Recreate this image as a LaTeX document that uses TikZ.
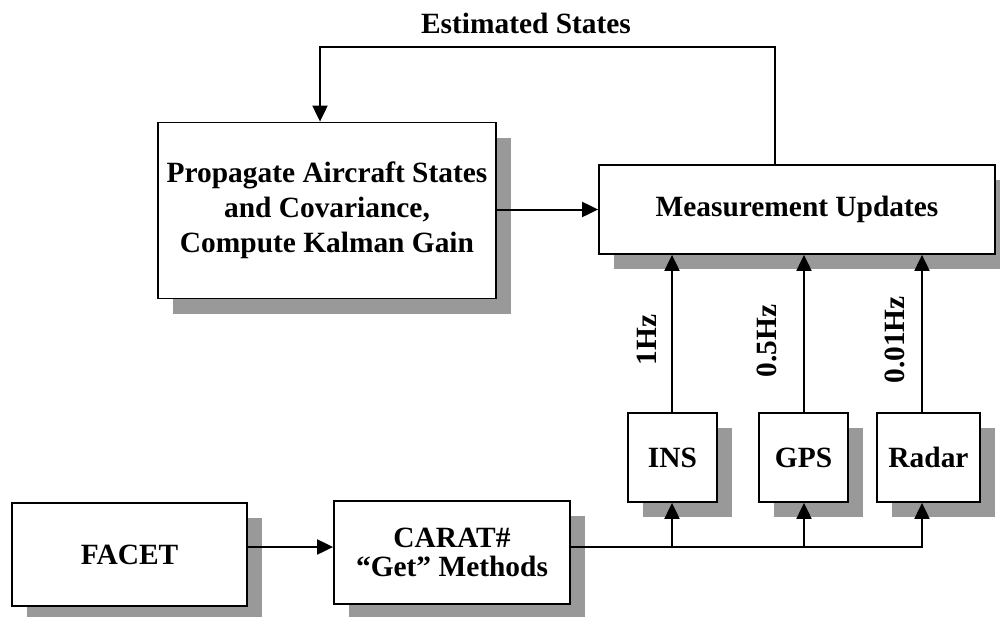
\documentclass[tikz,border=0pt]{standalone}
\usepackage{fontspec}
\setmainfont{Liberation Serif}
\usetikzlibrary{shadows,arrows.meta}
\begin{document}
\begin{tikzpicture}[x=0.5pt,y=-0.5pt,
  box/.style={draw, line width=0.9pt, fill=white, inner sep=0pt, align=center,
    font=\fontsize{14.7}{17.4}\selectfont\bfseries,
    drop shadow={shadow xshift=7.5pt, shadow yshift=-7.5pt, fill=black!40, opacity=1}},
  conn/.style={line width=1pt, -{Triangle[length=8pt,width=7.5pt]}},
  lbl/.style={font=\fontsize{14.7}{17.4}\selectfont\bfseries, inner sep=0pt}]
\useasboundingbox (0,0) rectangle (1000,616);
% boxes
\node[box, minimum width=169pt, minimum height=88pt] (prop) at (327,210.5)
  {Propagate Aircraft States\\and Covariance,\\Compute Kalman Gain};
\node[box, minimum width=198pt, minimum height=44.5pt] (meas) at (797,209.5) {Measurement Updates};
\node[box, minimum width=44.5pt, minimum height=44.5pt] (ins) at (672.5,457.5) {INS};
\node[box, minimum width=44.5pt, minimum height=44.5pt] (gps) at (803.5,457.5) {GPS};
\node[box, minimum width=51.5pt, minimum height=44.5pt] (radar) at (928.5,457.5) {Radar};
\node[box, minimum width=117.5pt, minimum height=51.5pt] (facet) at (129.5,554.5) {FACET};
\node[box, minimum width=118pt, minimum height=51.5pt, font=\fontsize{14.7}{14.2}\selectfont\bfseries] (carat) at (452,552.5)
  {CARAT\#\\“Get” Methods};
% labels
\node[lbl] (est) at (526,23) {Estimated States};
\node[lbl, rotate=90] (f1) at (647,340) {1Hz};
\node[lbl, rotate=90] (f2) at (767,341) {0.5Hz};
\node[lbl, rotate=90] (f3) at (895,340) {0.01Hz};
% helper coordinates
\coordinate (ix) at (672,547);
\coordinate (gx) at (804,547);
\coordinate (rx) at (922,547);
\coordinate (fa) at (775,47);
\coordinate (fb) at (320,47);
% connectors
\draw[conn] (prop.east |- meas.west) -- (meas.west);
\draw[conn] (meas.north -| fa) -- (fa) -- (fb) -- (prop.north -| fb);
\draw[conn] (facet.east |- ix) -- (carat.west |- ix);
\draw[conn] (carat.east |- ix) -- (rx) -- (radar.south -| rx);
\draw[conn] (ix) -- (ins.south -| ix);
\draw[conn] (gx) -- (gps.south -| gx);
\draw[conn] (ins.north -| ix) -- (meas.south -| ix);
\draw[conn] (gps.north -| gx) -- (meas.south -| gx);
\draw[conn] (radar.north -| rx) -- (meas.south -| rx);
\end{tikzpicture}
\end{document}
